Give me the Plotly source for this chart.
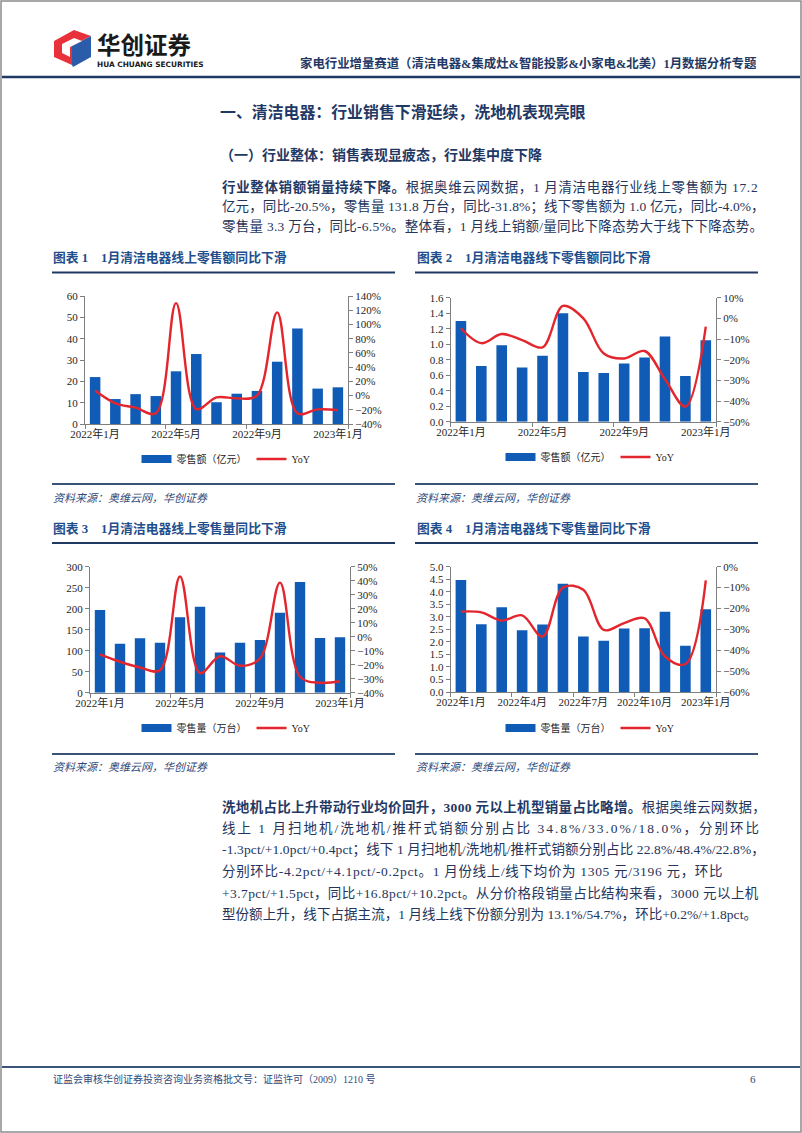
import plotly.graph_objects as go

W, H = 802, 1133
def X(p): return p / W
def Y(p): return 1 - p / H

# ---------------- data ----------------
months = ['2022年1月', '2022年2月', '2022年3月', '2022年4月', '2022年5月', '2022年6月',
          '2022年7月', '2022年8月', '2022年9月', '2022年10月', '2022年11月', '2022年12月', '2023年1月']

online_sales = [22.0, 11.7, 14.0, 13.1, 24.7, 32.8, 10.2, 14.2, 15.5, 29.2, 44.8, 16.6, 17.2]
online_sales_yoy = [7, -11, -17, -25, 130, -19, -2.5, -4, 0, 117, -25, -19.5, -20.5]

offline_sales = [1.30, 0.72, 0.985, 0.70, 0.85, 1.40, 0.64, 0.63, 0.75, 0.83, 1.10, 0.59, 1.05]
offline_sales_yoy = [-4.8, -12, -7.6, -10.5, -14, 6, 0, -17, -19.4, -15.8, -29.5, -42.7, -4.0]

online_vol = [196.8, 116.7, 129.4, 119, 179.4, 204.8, 96, 119, 125.4, 190.5, 263.5, 130, 131.8]
online_vol_yoy = [-12.6, -17.9, -22, -24, 43, -26, -14, -20.7, -15.5, 38.6, -28.6, -32.9, -31.8]

offline_vol = [4.47, 2.70, 3.38, 2.46, 2.69, 4.32, 2.21, 2.05, 2.53, 2.54, 3.20, 1.85, 3.30]
offline_vol_yoy = [-21.5, -21.9, -25.8, -23.3, -33.5, -10, -11, -30.3, -27, -24.7, -43, -46.6, -6.5]

chart_titles = ['图表 1　1月清洁电器线上零售额同比下滑', '图表 2　1月清洁电器线下零售额同比下滑',
                '图表 3　1月清洁电器线上零售量同比下滑', '图表 4　1月清洁电器线下零售量同比下滑']
bar_names = ['零售额（亿元）', '零售额（亿元）', '零售量（万台）', '零售量（万台）']
line_name = 'YoY'
source_text = '资料来源：奥维云网，华创证券'

header_title = '家电行业增量赛道（清洁电器&amp;集成灶&amp;智能投影&amp;小家电&amp;北美）1月数据分析专题'
section_title = '一、清洁电器：行业销售下滑延续，洗地机表现亮眼'
sub_title = '（一）行业整体：销售表现显疲态，行业集中度下降'
para1 = [
    ('行业整体销额销量持续下降。', '根据奥维云网数据，1 月清洁电器行业线上零售额为 17.2'),
    ('', '亿元，同比-20.5%，零售量 131.8 万台，同比-31.8%；线下零售额为 1.0 亿元，同比-4.0%，'),
    ('', '零售量 3.3 万台，同比-6.5%。整体看，1 月线上销额/量同比下降态势大于线下下降态势。'),
]
para2 = [
    ('洗地机占比上升带动行业均价回升，3000 元以上机型销量占比略增。', '根据奥维云网数据，'),
    ('', '线上 1 月扫地机/洗地机/推杆式销额分别占比 34.8%/33.0%/18.0%，分别环比'),
    ('', '-1.3pct/+1.0pct/+0.4pct；线下 1 月扫地机/洗地机/推杆式销额分别占比 22.8%/48.4%/22.8%，'),
    ('', '分别环比-4.2pct/+4.1pct/-0.2pct。1 月份线上/线下均价为 1305 元/3196 元，环比'),
    ('', '+3.7pct/+1.5pct，同比+16.8pct/+10.2pct。从分价格段销量占比结构来看，3000 元以上机'),
    ('', '型份额上升，线下占据主流，1 月线上线下份额分别为 13.1%/54.7%，环比+0.2%/+1.8pct。'),
]
footer_text = '证监会审核华创证券投资咨询业务资格批文号：证监许可（2009）1210 号'
page_no = '6'

# extra width (px) needed on each paragraph line to reach the justified right edge
para1_extra = [26, 6, 12]
para2_extra = [14, 90, 9, 38, 24, 3]

# ---------------- style ----------------
FONT = 'Liberation Serif, Noto Sans CJK SC'
SANS = 'Noto Sans CJK SC'
BAR_C = '#0F5BB5'
LINE_C = '#E3262D'
NAVY = '#1F3864'
TITLE_C = '#1F4E8C'
BODY_C = '#24345A'
AX_C = '#7F7F7F'
TICK_F = dict(family=FONT, size=11, color='#262626')

charts = [
    dict(bars=online_sales, yoy=online_sales_yoy, xd=(85, 348), yd=(424, 296),
         yr=(0, 60), ydt=10, yfmt='d', y2r=(-40, 140), y2dt=20, ticks=[0, 4, 8, 12], leg=(226, 459)),
    dict(bars=offline_sales, yoy=offline_sales_yoy, xd=(450.7, 716), yd=(421.7, 297.7),
         yr=(0, 1.6), ydt=0.2, yfmt='.1f', y2r=(-50, 10), y2dt=10, ticks=[0, 4, 8, 12], leg=(590, 457)),
    dict(bars=online_vol, yoy=online_vol_yoy, xd=(90, 350), yd=(692.7, 566.7),
         yr=(0, 300), ydt=50, yfmt='d', y2r=(-40, 50), y2dt=10, ticks=[0, 4, 8, 12], leg=(226, 728)),
    dict(bars=offline_vol, yoy=offline_vol_yoy, xd=(450.7, 716), yd=(692, 566.7),
         yr=(0, 5), ydt=0.5, yfmt='.1f', y2r=(-60, 0), y2dt=10, ticks=[0, 3, 6, 9, 12], leg=(590, 728)),
]

fig = go.Figure()
layout = dict(width=W, height=H, margin=dict(l=0, r=0, t=0, b=0, autoexpand=False),
              paper_bgcolor='white', plot_bgcolor='white', showlegend=True)

idx = list(range(len(months)))
for n, c in enumerate(charts, start=1):
    xs = '' if n == 1 else str(n)
    ly = 2 * n - 1
    ry = 2 * n
    lyn = '' if ly == 1 else str(ly)
    lg = 'legend' if n == 1 else f'legend{n}'
    fig.add_trace(go.Bar(x=idx, y=c['bars'], xaxis='x' + xs, yaxis='y' + lyn,
                         marker=dict(color=BAR_C, line=dict(width=0)), width=0.52,
                         name=bar_names[n - 1], showlegend=False, legend=lg))
    fig.add_trace(go.Scatter(x=[None], y=[None], xaxis='x' + xs, yaxis='y' + lyn,
                             mode='lines', line=dict(color=BAR_C, width=8),
                             name=bar_names[n - 1], showlegend=True, legend=lg))
    fig.add_trace(go.Scatter(x=idx, y=c['yoy'], xaxis='x' + xs, yaxis=f'y{ry}',
                             mode='lines', line=dict(color=LINE_C, width=2.4, shape='spline', smoothing=1.0),
                             name=line_name, showlegend=True, legend=lg))
    layout['xaxis' + xs] = dict(
        domain=[X(c['xd'][0]), X(c['xd'][1])], anchor='y' + lyn,
        range=[-0.5, len(months) - 0.5], tickmode='array', tickvals=c['ticks'],
        ticktext=[months[i] for i in c['ticks']], ticks='', showline=True, linecolor=AX_C,
        linewidth=1, showgrid=False, zeroline=False, tickfont=TICK_F, fixedrange=True,
        minor=dict(tickmode='array', tickvals=[t - 0.5 for t in c['ticks'][:-1]] + [len(months) - 0.5],
                   ticks='outside', ticklen=4, tickcolor=AX_C, showgrid=False))
    layout['yaxis' + lyn] = dict(
        domain=[Y(c['yd'][0]), Y(c['yd'][1])], anchor='x' + xs, range=list(c['yr']),
        dtick=c['ydt'], tick0=0, tickformat=c['yfmt'], ticks='outside', ticklen=4, tickcolor=AX_C,
        showline=True, linecolor=AX_C, linewidth=1, showgrid=False, zeroline=False, tickfont=TICK_F)
    layout[f'yaxis{ry}'] = dict(
        overlaying='y' + lyn, side='right', anchor='x' + xs, range=list(c['y2r']),
        dtick=c['y2dt'], tick0=0, ticksuffix='%', ticks='outside', ticklen=4, tickcolor=AX_C,
        showline=True, linecolor=AX_C, linewidth=1, showgrid=False, zeroline=False, tickfont=TICK_F)
    layout[lg] = dict(x=X(c['leg'][0]), y=Y(c['leg'][1]), xanchor='center', yanchor='middle',
                      orientation='h', bgcolor='rgba(0,0,0,0)', itemwidth=30,
                      font=dict(family=FONT, size=10, color='#262626'))

annotations = []
def txt(x, y, text, size, color, family=FONT, xanchor='left', bold=False, italic=False):
    t = text
    if bold:
        t = '<b>' + t + '</b>'
    if italic:
        t = '<i>' + t + '</i>'
    annotations.append(dict(x=X(x), y=Y(y), xref='paper', yref='paper', text=t, showarrow=False,
                            xanchor=xanchor, yanchor='middle', font=dict(family=family, size=size, color=color),
                            borderpad=0))

def para_line(x0, y, bold_part, normal_part, fs, extra):
    n = len(bold_part) + len(normal_part)
    ls = extra / max(n - 1, 1)
    st = f'letter-spacing:{ls:.3f}px'
    t = ''
    if bold_part:
        t += f'<b><span style="color:{NAVY};{st}">{bold_part}</span></b>'
    t += f'<span style="{st}">{normal_part}</span>'
    annotations.append(dict(x=X(x0), y=Y(y), xref='paper', yref='paper', text=t, showarrow=False,
                            xanchor='left', yanchor='middle',
                            font=dict(family=FONT, size=fs, color=BODY_C), borderpad=0))

# header
txt(96, 44, '华创证券', 23.5, '#1A1A1A', family=SANS, bold=True)
txt(96, 64.5, 'HUA CHUANG SECURITIES', 7.4, '#1A1A1A', family='DejaVu Sans', bold=True)
txt(758, 63, header_title, 12.4, NAVY, xanchor='right', bold=True)

txt(219, 112, section_title, 15.9, NAVY, bold=True)
txt(219, 155, sub_title, 14, NAVY, bold=True)

for i, (b, nrm) in enumerate(para1):
    para_line(221, 186.7 + i * 20, b, nrm, 13.5, para1_extra[i])
for i, (b, nrm) in enumerate(para2):
    para_line(221, 807 + i * 21.5, b, nrm, 13.5, para2_extra[i])

title_pos = [(52, 258), (416, 258), (52, 528), (416, 528)]
for (x, y), t in zip(title_pos, chart_titles):
    txt(x, y, t, 12.8, TITLE_C, bold=True)
for x, y in [(52, 498), (415, 498), (52, 767), (415, 767)]:
    txt(x, y, source_text, 11, '#2F4A7A', italic=True)

txt(52, 1079, footer_text, 10, '#2F4A7A')
txt(757, 1079, page_no, 11, '#2F4A7A', xanchor='right')

# ---------------- shapes ----------------
shapes = []
def hline(x0, x1, y, color, w):
    shapes.append(dict(type='line', xref='paper', yref='paper', x0=X(x0), x1=X(x1), y0=Y(y), y1=Y(y),
                       line=dict(color=color, width=w)))
hline(2, 800, 77, NAVY, 2.5)
for y in (272.5, 543):
    hline(52, 395, y, NAVY, 2)
    hline(415, 758, y, NAVY, 2)
for y in (484, 754):
    hline(52, 395, y, '#3A5478', 2)
    hline(415, 758, y, '#3A5478', 2)
hline(2, 800, 1067, '#3A5478', 2)
shapes.append(dict(type='rect', xref='paper', yref='paper', x0=X(1), x1=X(801), y0=Y(1132), y1=Y(1),
                   line=dict(color='#8C8C8C', width=1.5)))

def path(pts):
    return 'M ' + ' L '.join(f'{X(a)},{Y(b)}' for a, b in pts) + ' Z'
shapes.append(dict(type='path', xref='paper', yref='paper',
                   path=path([(54, 41), (74, 30), (91, 36), (72, 46), (72, 65), (54, 57)]),
                   fillcolor='#E8313B', line=dict(width=0)))
shapes.append(dict(type='path', xref='paper', yref='paper',
                   path=path([(72, 46), (91, 36), (91, 57), (73, 67), (72, 65)]),
                   fillcolor='#2B5CAA', line=dict(width=0)))
shapes.append(dict(type='path', xref='paper', yref='paper',
                   path=path([(62, 44), (74, 38), (82, 41), (70, 47), (70, 57), (62, 53)]),
                   fillcolor='white', line=dict(width=0)))

layout['annotations'] = annotations
layout['shapes'] = shapes
fig.update_layout(**layout)
fig.write_html('out.html', config={'displayModeBar': False},
               post_script="document.body.style.margin='0px';")
